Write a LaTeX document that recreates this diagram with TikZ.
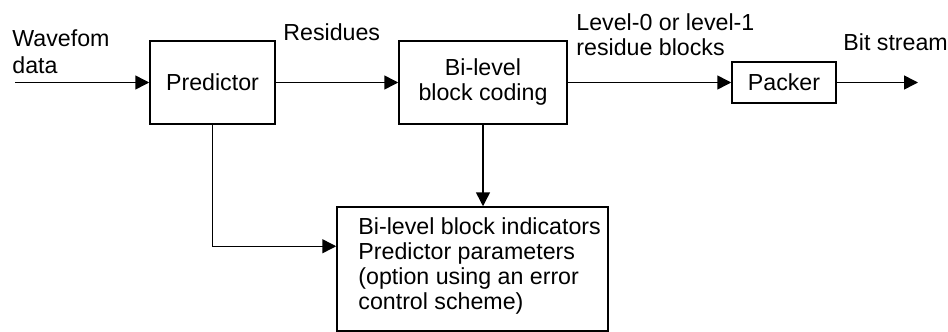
\documentclass[tikz,border=0pt]{standalone}
\usepackage{fontspec}
\setmainfont{Liberation Sans}
\usetikzlibrary{arrows.meta,calc}
\begin{document}
\begin{tikzpicture}[x=0.5pt,y=-0.5pt,
  every node/.style={font=\fontsize{11.6}{12.5}\selectfont},
  box/.style={draw, line width=0.75pt, inner sep=0pt},
  conn/.style={line width=0.75pt, -{Triangle[length=7pt,width=7pt]}},
  lbl/.style={inner sep=0pt, align=left}]
\useasboundingbox (0,0) rectangle (948,332);
\node[box, minimum width=62.5pt, minimum height=41.5pt] (pred) at (212.5,82.5) {Predictor};
\node[box, minimum width=84pt, minimum height=41.5pt, align=center] (bcod) at (483,82.5) {Bi-level\\block coding};
\node[box, minimum width=52pt, minimum height=20.5pt] (pack) at (784,82.5) {Packer};
\node[box, minimum width=135.5pt, minimum height=62pt] (ind) at (472.5,269) {};
\node[lbl, anchor=north west] (indt) at (358,217) {Bi-level block indicators\\Predictor parameters\\(option using an error\\control scheme)};
\node[lbl, anchor=north west, font=\fontsize{11.6}{13.5}\selectfont] (wav) at (12,29) {Wavefom\\data};
\node[lbl, anchor=base west] (res) at (283,40) {Residues};
\node[lbl, anchor=north west] (lev) at (576,13) {Level-0 or level-1\\residue blocks};
\node[lbl, anchor=base west] (bit) at (843,50) {Bit stream};
\coordinate (in) at (15,82.5);
\coordinate (out) at (918,82.5);
\draw[conn] (in) -- (pred.west);
\draw[conn] (pred.east) -- (bcod.west);
\draw[conn] (bcod.east) -- (pack.west);
\draw[conn] (pack.east) -- (out);
\draw[conn] (bcod.south) -- (bcod.south |- ind.north);
\draw[conn] (pred.south) |- ([yshift=-20pt]ind.north west);
\end{tikzpicture}
\end{document}
